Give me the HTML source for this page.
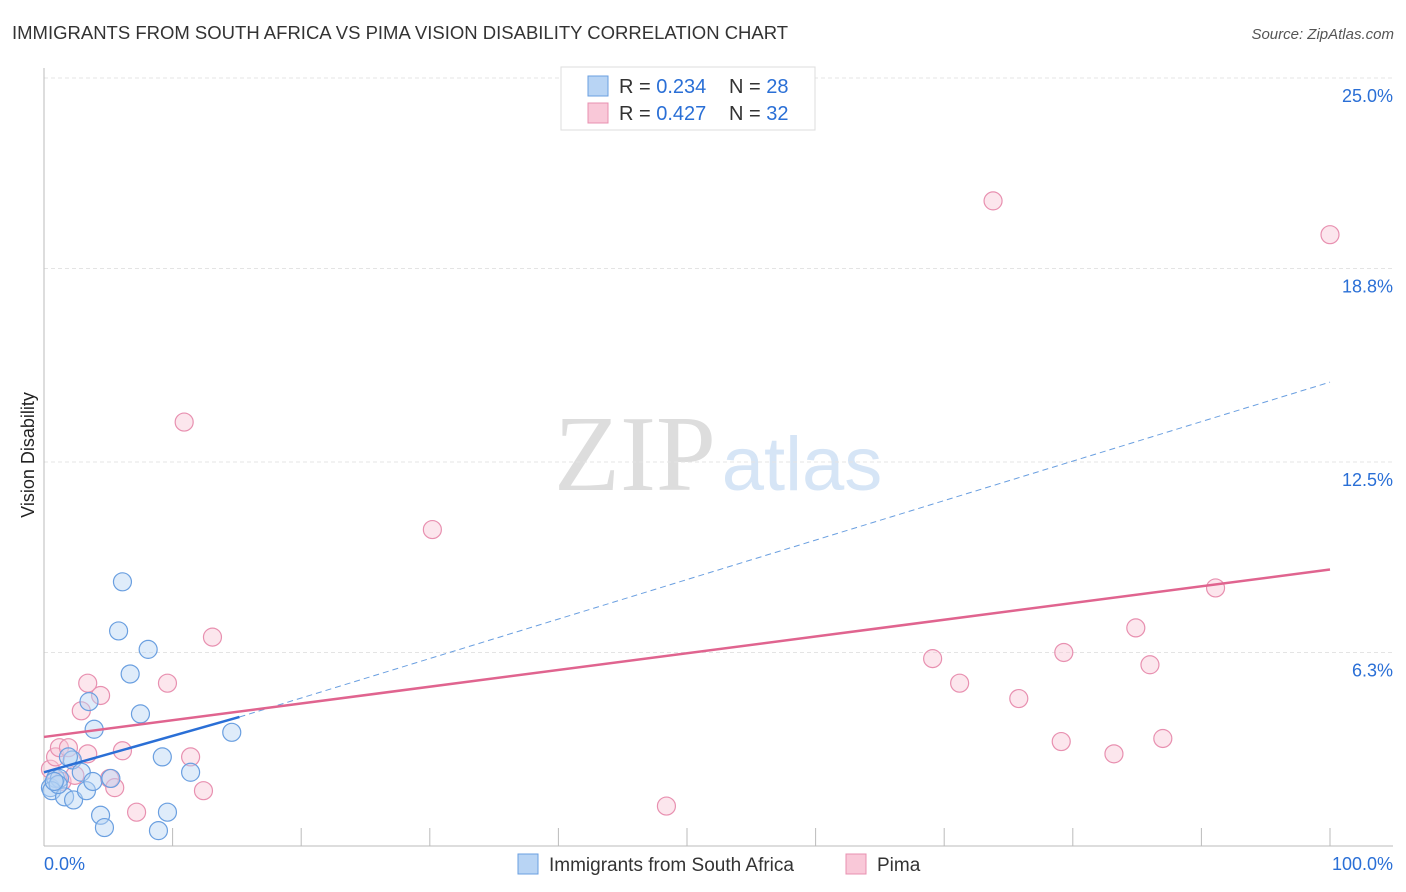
<!DOCTYPE html>
<html><head><meta charset="utf-8"><style>
body{margin:0;background:#fff;font-family:"Liberation Sans",sans-serif;}
svg{display:block}
</style></head><body>
<svg id="c" width="1406" height="892">
<text x="12" y="39" font-size="18.5" fill="#333">IMMIGRANTS FROM SOUTH AFRICA VS PIMA VISION DISABILITY CORRELATION CHART</text>
<text x="1394" y="39" font-size="15" fill="#555" font-style="italic" text-anchor="end">Source: ZipAtlas.com</text>
<text x="0" y="0" font-size="18" fill="#222" transform="translate(34,455) rotate(-90)" text-anchor="middle">Vision Disability</text>
<g><text x="635" y="490" font-size="108" fill="#ddd" font-family="Liberation Serif" text-anchor="middle">ZIP</text><text x="802" y="490" font-size="76" fill="#d6e5f6" text-anchor="middle">atlas</text></g>
<g id="grid"></g><g id="marks"></g>
<g>
<rect x="561" y="67" width="254" height="63" fill="#fff" stroke="#ddd"/>
<rect x="588" y="76" width="20" height="20" fill="#b8d4f4" stroke="#6a9fe0"/>
<rect x="588" y="103" width="20" height="20" fill="#f9c8d8" stroke="#e890b0"/>
<text x="619" y="93" font-size="20" fill="#333">R = <tspan fill="#2a6fd6">0.234</tspan></text>
<text x="729" y="93" font-size="20" fill="#333">N = <tspan fill="#2a6fd6">28</tspan></text>
<text x="619" y="120" font-size="20" fill="#333">R = <tspan fill="#2a6fd6">0.427</tspan></text>
<text x="729" y="120" font-size="20" fill="#333">N = <tspan fill="#2a6fd6">32</tspan></text>
</g>
<g>
<rect x="518" y="854" width="20" height="20" fill="#b8d4f4" stroke="#6a9fe0"/>
<text x="549" y="871" font-size="19" fill="#333">Immigrants from South Africa</text>
<rect x="846" y="854" width="20" height="20" fill="#f9c8d8" stroke="#e890b0"/>
<text x="877" y="871" font-size="19" fill="#333">Pima</text>
</g>
</svg>
<script>
const yTicks=[25.0,18.8,12.5,6.3];
const yTickLabels=["25.0%","18.8%","12.5%","6.3%"];
const blueX=[0.5,0.9,1.2,0.6,1.6,2.2,2.3,2.9,3.3,3.8,3.5,3.9,4.4,4.7,5.2,5.8,6.1,6.7,7.5,8.1,8.9,9.2,9.6,11.4,14.6,1.1,1.9,0.8];
const blueY=[1.9,2.2,2.2,1.8,1.6,2.8,1.5,2.4,1.8,2.1,4.7,3.8,1.0,0.6,2.2,7.0,8.6,5.6,4.3,6.4,0.5,2.9,1.1,2.4,3.7,2.0,2.9,2.1];
const pinkX=[0.5,0.9,1.2,1.9,1.4,2.4,2.9,3.4,3.4,4.4,5.1,5.5,6.1,7.2,9.6,10.9,11.4,12.4,13.1,30.2,48.4,69.1,71.2,73.8,75.8,79.1,79.3,83.2,84.9,86.0,87.0,91.1];
const pinkY=[2.5,2.9,3.2,3.2,2.1,2.3,4.4,3.0,5.3,4.9,2.2,1.9,3.1,1.1,5.3,13.8,2.9,1.8,6.8,10.3,1.3,6.1,5.3,21.0,4.8,3.4,6.3,3.0,7.1,5.9,3.5,8.4];
const pinkX2=[100];const pinkY2=[19.9];
const px=v=>44+v*12.86, py=v=>846-v*30.72;
const NS="http://www.w3.org/2000/svg";
function mk(t,a,p){const e=document.createElementNS(NS,t);for(const k in a)e.setAttribute(k,a[k]);p.appendChild(e);return e;}
const g=document.getElementById('grid'),m=document.getElementById('marks');
yTicks.forEach((t,i)=>{const l=mk('line',{x1:44,x2:1393,y1:py(t),y2:py(t),stroke:'#e4e4e4','stroke-dasharray':'4,3'},g);


const tx=mk('text',{x:1393,y:py(t)+24,'font-size':18,fill:'#2a6fd6','text-anchor':'end'},g);tx.textContent=yTickLabels[i];

});
const ax=mk('line',{x1:44,x2:44,y1:68,y2:846,stroke:'#bbb'},g);


const bx=mk('line',{x1:44,x2:1393,y1:846,y2:846,stroke:'#bbb'},g);


for(let i=1;i<=10;i++){const t=mk('line',{x1:px(i*10),x2:px(i*10),y1:828,y2:846,stroke:'#bbb'},g);

}
[["0.0%",44,'start'],["100.0%",1393,'end']].forEach(a=>{const t=mk('text',{x:a[1],y:870,'font-size':18,fill:'#2a6fd6','text-anchor':a[2]},g);t.textContent=a[0];

});
function dots(X,Y,f,s,n){X.forEach((x,i)=>{const c=mk('circle',{cx:px(x),cy:py(Y[i]),r:9,fill:f,'fill-opacity':0.45,stroke:s,'stroke-width':1.2},m);

});}
dots(pinkX.concat(pinkX2),pinkY.concat(pinkY2),'#f9c8d8','#e890b0','pima-point');
dots(blueX,blueY,'#b8d4f4','#6a9fe0','south-africa-point');
const l1=mk('line',{x1:px(0),y1:py(2.4),x2:px(15.2),y2:py(4.2),stroke:'#2a6fd6','stroke-width':2.5},m);


const l2=mk('line',{x1:px(15.2),y1:py(4.2),x2:px(100),y2:py(15.1),stroke:'#6a9fe0','stroke-width':1,'stroke-dasharray':'6,4'},m);


const l3=mk('line',{x1:px(0),y1:py(3.55),x2:px(100),y2:py(9.0),stroke:'#e0648f','stroke-width':2.5},m);


</script>
</body></html>
